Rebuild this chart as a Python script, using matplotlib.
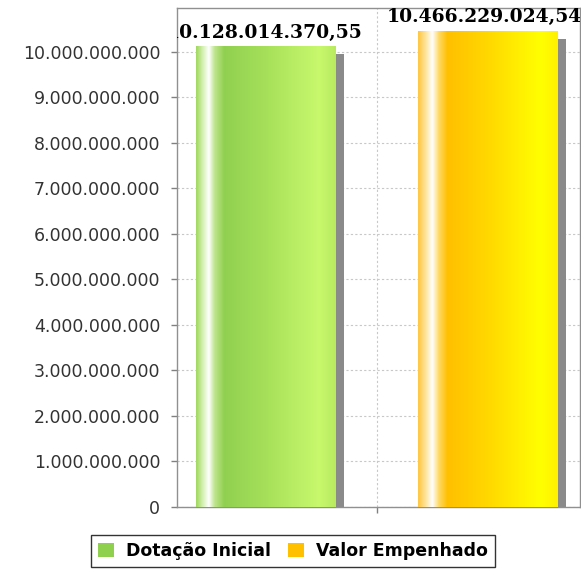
import matplotlib
matplotlib.use("Agg")
import matplotlib.pyplot as plt
import numpy as np
from matplotlib.colors import LinearSegmentedColormap
from matplotlib.patches import Rectangle, Patch
from matplotlib.ticker import FuncFormatter, MultipleLocator
import matplotlib.transforms as mtransforms

series = ["Dotação Inicial", "Valor Empenhado"]
values = [10128014370.55, 10466229024.54]
value_labels = ["10.128.014.370,55", "10.466.229.024,54"]
legend_colors = ["#8fd14f", "#ffc000"]

green_stops = [(0.0, "#9fd860"), (0.05, "#d8f2b8"), (0.09, "#ffffff"), (0.13, "#c0e690"),
               (0.2, "#90d050"), (0.5, "#a6e05a"), (0.88, "#c8f86c"), (1.0, "#b8ea60")]
yellow_stops = [(0.0, "#ffc640"), (0.06, "#ffe8a8"), (0.1, "#ffffff"), (0.15, "#ffd860"),
                (0.21, "#ffc000"), (0.5, "#ffd800"), (0.88, "#ffff00"), (1.0, "#fff000")]
grad_stops = [green_stops, yellow_stops]

fig = plt.figure(figsize=(5.81, 5.71), dpi=100)
ax = fig.add_axes([177/581, (571-507)/571, (580-177)/581, (507-8)/571])

offsets = [-0.275, 0.276]
label_shift = [-0.003, -0.01]
width = 0.347
ax.set_xlim(-0.496, 0.504)
ax.set_ylim(0, 10.967e9)

shadow_tr = mtransforms.offset_copy(ax.transData, fig=fig, x=8, y=-8, units='dots')

for i, (off, v) in enumerate(zip(offsets, values)):
    x0 = off - width/2
    ax.add_patch(Rectangle((x0, 0), width, v, facecolor="#8a8a8a", edgecolor="none",
                           transform=shadow_tr, zorder=2))
    bar = ax.bar(off, v, width=width, color="none", edgecolor="none", zorder=3)[0]
    cmap = LinearSegmentedColormap.from_list("g%d" % i, grad_stops[i])
    grad = np.linspace(0, 1, 256).reshape(1, -1)
    im = ax.imshow(grad, cmap=cmap, aspect="auto", extent=(x0, x0 + width, 0, v),
                   zorder=3, interpolation="bilinear")
    im.set_clip_path(bar)
    ax.text(off + label_shift[i], v + 0.1e9, value_labels[i], ha="center", va="bottom",
            fontsize=13.5, fontweight="bold", family="DejaVu Serif", color="black",
            clip_on=True, zorder=5)

ax.yaxis.set_major_locator(MultipleLocator(1e9))
ax.yaxis.set_major_formatter(FuncFormatter(lambda y, p: f"{int(round(y)):,}".replace(",", ".")))
ax.set_xticks([0])
ax.set_xticklabels([""])
ax.tick_params(axis="y", direction="out", length=4, width=1, color="#808080",
               labelsize=12.5, labelcolor="#333333", pad=8)
ax.tick_params(axis="x", direction="out", length=4, width=1, color="#808080")

ax.grid(True, color="#c8c8c8", linestyle=(0, (2, 2)), linewidth=0.8, zorder=0)
ax.set_axisbelow(True)
for s in ax.spines.values():
    s.set_color("#909090")
    s.set_linewidth(1)

handles = [Patch(facecolor=c, edgecolor="none") for c in legend_colors]
leg = fig.legend(handles, series, loc="center", bbox_to_anchor=(293/581, (571-551)/571),
                 ncol=2, frameon=True, fancybox=False, handlelength=0.9, handleheight=0.9,
                 handletextpad=0.7, columnspacing=1.0, borderpad=0.4,
                 prop={"weight": "bold", "size": 12.5})
leg.get_frame().set_edgecolor("black")
leg.get_frame().set_linewidth(1)

fig.savefig("out.png", dpi=100)
